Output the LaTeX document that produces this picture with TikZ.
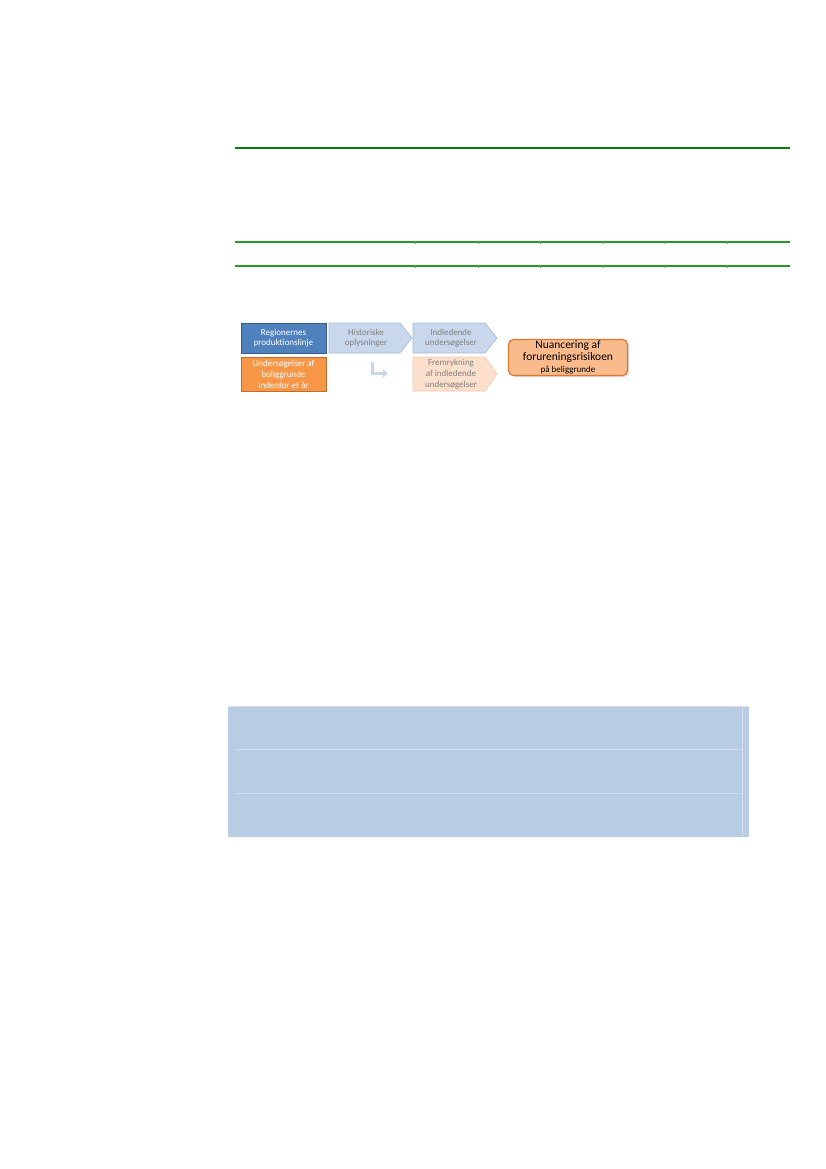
\documentclass[tikz,border=0pt]{standalone}
\usepackage{fontspec}
\setmainfont{Carlito}
\usetikzlibrary{arrows.meta,shadows}
\definecolor{grn}{RGB}{0,128,0}
\definecolor{grnl}{RGB}{40,150,40}
\definecolor{bluebox}{RGB}{79,129,189}
\definecolor{blueedge}{RGB}{56,93,138}
\definecolor{orbox}{RGB}{247,150,70}
\definecolor{oredge}{RGB}{190,110,50}
\definecolor{lblue}{RGB}{200,215,235}
\definecolor{lblueedge}{RGB}{165,188,220}
\definecolor{peach}{RGB}{252,224,204}
\definecolor{peachedge}{RGB}{249,200,165}
\definecolor{nuafill}{RGB}{250,187,140}
\definecolor{nuaedge}{RGB}{220,120,50}
\definecolor{tblue}{RGB}{184,204,228}
\definecolor{tline}{RGB}{210,222,238}
\tikzset{
  solidbox/.style={draw, line width=0.8pt, minimum width=85pt, inner sep=1pt, align=center, text=white, font=\fontsize{9}{10.5}\selectfont},
  chev/.style={line width=0.6pt},
  chevtext/.style={text=black!50, align=center, font=\fontsize{9}{10.5}\selectfont, inner sep=0pt},
}
\begin{document}
\begin{tikzpicture}[x=1pt,y=-1pt]
\useasboundingbox (0,0) rectangle (826,1169);
% green table rules
\draw[grn, line width=2.2pt] (235,148) coordinate (r1a) -- (790,148) coordinate (r1b);
\draw[grnl, line width=1.6pt] (235,242) coordinate (r2a) -- (790,242) coordinate (r2b);
\draw[grnl, line width=1.6pt] (235,266) coordinate (r3a) -- (790,266) coordinate (r3b);
\foreach \x in {415,478,540,603,665,727}{
  \draw[grn!70, line width=0.5pt] (\x,240.5) -- (\x,243.5);
  \draw[grn!70, line width=0.5pt] (\x,264.5) -- (\x,267.5);
}
% flowchart
\node[solidbox, fill=bluebox, draw=blueedge, minimum height=30pt] (reg) at (283.5,338) {Regionernes\\produktionslinje};
\node[solidbox, fill=orbox, draw=oredge, minimum height=34pt, font=\fontsize{9}{11}\selectfont] (und) at (283.5,374) {Undersøgelser af\\boliggrunde\\indenfor et år};
% chevrons
\fill[lblue, draw=lblueedge, chev] (329,323) -- (400,323) -- (412,338) -- (400,353) -- (329,353) -- cycle;
\node[chevtext] (hist) at (366,338) {Historiske\\oplysninger};
\fill[lblue, draw=lblueedge, chev] (413,323) -- (485,323) -- (497,338) -- (485,353) -- (413,353) -- cycle;
\node[chevtext] (indl) at (451,338) {Indledende\\undersøgelser};
\fill[peach, draw=peachedge, chev] (413,357) -- (485,357) -- (497,374) -- (485,391) -- (413,391) -- cycle;
\node[chevtext, font=\fontsize{9}{11}\selectfont] (frem) at (451,374) {Fremrykning\\af indledende\\undersøgelser};
% bent arrow
\coordinate (ba1) at (372.5,362);
\coordinate (ba2) at (372.5,373.5);
\coordinate (ba3) at (388,373.5);
\draw[lblue, line width=3.5pt, -{Triangle[length=5pt,width=8pt]}] (ba1) -- (ba2) -- (ba3);
% result box
\node[draw=nuaedge, fill=nuafill, line width=1.2pt, rounded corners=5pt, minimum width=119pt, minimum height=36pt, inner sep=1pt, align=center, drop shadow={shadow xshift=1.5pt, shadow yshift=-1.5pt, fill=black!30}] (nua) at (568,357.5)
 {\fontsize{11.5}{13}\selectfont Nuancering af\\\fontsize{11.5}{13}\selectfont forureningsrisikoen\\\fontsize{9}{11}\selectfont på beliggrunde};
% blue table
\fill[tblue] (228,706) rectangle (749,837);
\draw[tline, line width=0.8pt] (228,706) -- (749,706);
\draw[tline, line width=0.8pt] (235,749.5) -- (742,749.5);
\draw[tline, line width=0.8pt] (235,793) -- (742,793);
\draw[tline, line width=0.8pt] (742,706) -- (742,837);
\draw[white, line width=0.8pt] (228,837.5) -- (749,837.5);
\end{tikzpicture}
\end{document}
